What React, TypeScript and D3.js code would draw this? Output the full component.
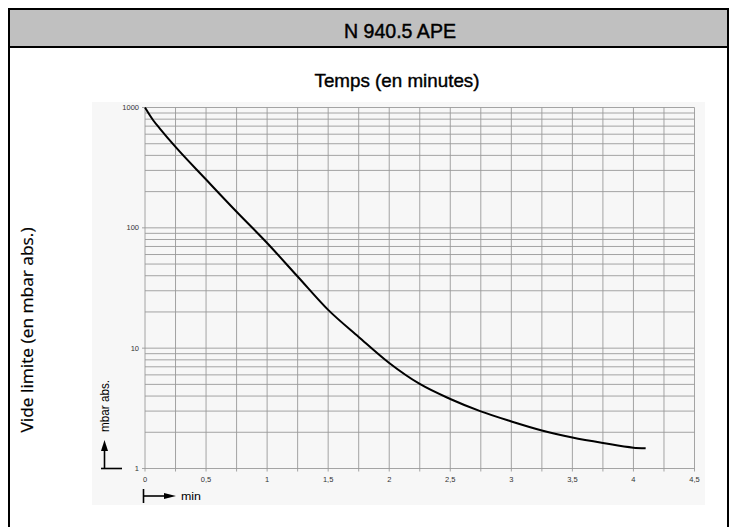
import React from "react";
import * as d3 from "d3";

const times = [0, 0.07, 0.12, 0.25, 0.5, 0.75, 1, 1.25, 1.5, 1.75, 2, 2.25, 2.5, 2.75, 3, 3.25, 3.5, 3.75, 4, 4.1];
const pressure = [1000, 776, 672, 470, 252, 136, 74.8, 39.4, 20.8, 12.4, 7.53, 5.04, 3.78, 2.98, 2.46, 2.07, 1.81, 1.63, 1.49, 1.47];
const xTicks = [0, 0.5, 1, 1.5, 2, 2.5, 3, 3.5, 4, 4.5];
const xTickLabels = ["0", "0,5", "1", "1,5", "2", "2,5", "3", "3,5", "4", "4,5"];
const yTicks = [1, 10, 100, 1000];
const header = "N 940.5 APE";
const xTitle = "Temps (en minutes)";
const yTitle = "Vide limite (en mbar abs.)";

const SANS = "'Liberation Sans', Arial, sans-serif";
const HUMAN = "'Open Sans', 'Noto Sans', sans-serif";

export default function App() {
  const x = d3.scaleLinear().domain([0, 4.5]).range([145, 694.5]);
  const y = d3.scaleLog().domain([1, 1000]).range([468.5, 107.5]);

  const vLines = d3.range(0, 4.5001, 0.25);
  const hLines: number[] = [];
  [1, 10, 100].forEach((d) => {
    for (let k = 1; k <= 9; k++) hLines.push(k * d);
  });
  hLines.push(1000);

  const pts = times.map((t, i) => [t, pressure[i]] as [number, number]);
  const line = d3
    .line<[number, number]>()
    .x((d) => x(d[0]))
    .y((d) => y(d[1]))
    .curve(d3.curveMonotoneX);

  const [x0, x1] = x.range();
  const [yb, yt] = y.range();

  return (
    <svg
      width={736}
      height={527}
      style={{ position: "absolute", left: 0, top: 0, background: "#fff" }}
    >
      {/* frame */}
      <rect x={9} y={9} width={719} height={38} fill="#c0c0c0" />
      <line x1={9} x2={9} y1={8} y2={527} stroke="#000" strokeWidth={2} />
      <line x1={728} x2={728} y1={8} y2={527} stroke="#000" strokeWidth={2} />
      <line x1={8} x2={729} y1={9} y2={9} stroke="#000" strokeWidth={2} />
      <line x1={8} x2={729} y1={47} y2={47} stroke="#000" strokeWidth={2} />
      <text
        x={400}
        y={38}
        textAnchor="middle"
        fontFamily={SANS}
        fontSize={20}
        textLength={112}
        lengthAdjust="spacingAndGlyphs"
        fill="#000"
        stroke="#000"
        strokeWidth={0.45}
      >
        {header}
      </text>
      <text
        x={397}
        y={87}
        textAnchor="middle"
        fontFamily={SANS}
        fontSize={19}
        textLength={165}
        lengthAdjust="spacingAndGlyphs"
        fill="#000"
        stroke="#000"
        strokeWidth={0.4}
      >
        {xTitle}
      </text>
      <text
        transform={`translate(33,330) rotate(-90)`}
        textAnchor="middle"
        fontFamily={HUMAN}
        fontSize={15.5}
        textLength={205}
        lengthAdjust="spacingAndGlyphs"
        fill="#000"
        stroke="#000"
        strokeWidth={0.2}
      >
        {yTitle}
      </text>

      {/* plot background */}
      <rect x={92} y={102} width={613} height={403} fill="#f7f7f7" />

      {/* grid */}
      {hLines.map((v) => (
        <line
          key={"h" + v}
          x1={x0 - (yTicks.includes(v) ? 3 : 0)}
          x2={x1}
          y1={y(v)}
          y2={y(v)}
          stroke="#9a9a9a"
          strokeWidth={0.9}
        />
      ))}
      {vLines.map((v) => (
        <line
          key={"v" + v}
          x1={x(v)}
          x2={x(v)}
          y1={yt}
          y2={yb + 3}
          stroke="#9a9a9a"
          strokeWidth={0.9}
        />
      ))}

      {/* tick labels */}
      {yTicks.map((v) => (
        <text
          key={"yl" + v}
          x={139}
          y={y(v) + 2.5}
          textAnchor="end"
          fontFamily={SANS}
          fontSize={7.5}
          fill="#333"
        >
          {String(v)}
        </text>
      ))}
      {xTicks.map((v, i) => (
        <text
          key={"xl" + v}
          x={x(v)}
          y={481.5}
          textAnchor="middle"
          fontFamily={SANS}
          fontSize={7.5}
          fill="#333"
        >
          {xTickLabels[i]}
        </text>
      ))}

      {/* curve */}
      <path d={line(pts) || ""} fill="none" stroke="#000" strokeWidth={2} />

      {/* unit arrows */}
      <line x1={101} x2={122} y1={468.5} y2={468.5} stroke="#000" strokeWidth={1.6} />
      <line x1={104.5} x2={104.5} y1={468.5} y2={448} stroke="#000" strokeWidth={1.6} />
      <path d="M101,451 L104.5,440 L108,451 Z" fill="#000" />
      <text
        transform={`translate(108.5,432) rotate(-90)`}
        fontFamily={SANS}
        fontSize={12}
        textLength={52}
        lengthAdjust="spacingAndGlyphs"
        fill="#000"
      >
        mbar abs.
      </text>
      <line x1={143.5} x2={143.5} y1={489} y2={503} stroke="#000" strokeWidth={1.6} />
      <line x1={143.5} x2={166} y1={496} y2={496} stroke="#000" strokeWidth={1.6} />
      <path d="M164,493 L176,496 L164,499 Z" fill="#000" />
      <text
        x={181}
        y={500}
        fontFamily={SANS}
        fontSize={11.5}
        textLength={20}
        lengthAdjust="spacingAndGlyphs"
        fill="#000"
      >
        min
      </text>
    </svg>
  );
}
